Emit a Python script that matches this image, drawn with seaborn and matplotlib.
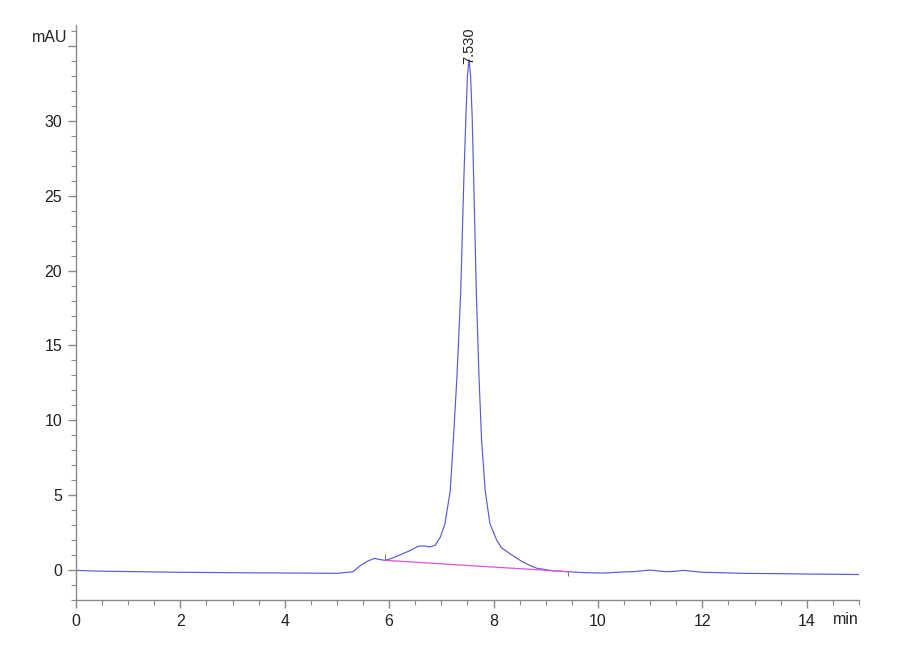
import matplotlib
matplotlib.use("Agg")
import matplotlib.pyplot as plt
import seaborn as sns
import pandas as pd
from matplotlib.ticker import MultipleLocator, FuncFormatter

# Chromatogram trace (time in min, signal in mAU)
time_min = [0.0, 0.4, 1.0, 2.0, 3.1, 4.3, 5.0, 5.3, 5.45, 5.6, 5.72, 5.82, 5.92,
            6.05, 6.2, 6.4, 6.55, 6.65, 6.78, 6.88, 6.98, 7.07, 7.17, 7.23, 7.30,
            7.37, 7.43, 7.47, 7.50, 7.53, 7.56, 7.59, 7.62, 7.67, 7.72, 7.77,
            7.84, 7.93, 8.06, 8.15, 8.31, 8.53, 8.7, 8.83, 9.14, 9.43, 9.78,
            10.1, 10.42, 10.7, 11.0, 11.3, 11.5, 11.63, 11.8, 12.0, 12.4, 12.78,
            13.5, 14.06, 14.5, 15.0]
signal_mau = [-0.02, -0.07, -0.10, -0.15, -0.18, -0.20, -0.22, -0.12, 0.30, 0.62,
              0.78, 0.70, 0.65, 0.78, 1.00, 1.30, 1.58, 1.62, 1.55, 1.65, 2.20,
              3.10, 5.30, 8.70, 13.0, 18.5, 26.0, 30.3, 33.0, 34.1, 33.0, 30.3,
              26.0, 18.5, 13.0, 8.70, 5.30, 3.10, 2.00, 1.50, 1.10, 0.60, 0.30,
              0.12, -0.05, -0.11, -0.18, -0.20, -0.14, -0.10, 0.00, -0.11,
              -0.08, -0.02, -0.08, -0.15, -0.18, -0.22, -0.24, -0.27, -0.28,
              -0.30]

# Integration baseline (start / end)
base_t = [5.92, 9.43]
base_y = [0.65, -0.11]

# Peak annotation
peak_t = 7.53
peak_y = 34.1
peak_label = "7.530"

sns.set_style("ticks")
plt.rcParams['font.family'] = ['Liberation Sans Narrow', 'Liberation Sans', 'DejaVu Sans']

fig = plt.figure(figsize=(9, 6.6), dpi=100)
ax = fig.add_axes([0.0844, 0.0909, 0.8700, 0.8712])

df = pd.DataFrame({"t": time_min, "y": signal_mau})
sns.lineplot(data=df, x="t", y="y", ax=ax, color="#5a5ad2", linewidth=0.85,
             estimator=None, sort=False)
sns.lineplot(x=base_t, y=base_y, ax=ax, color="#e050e0", linewidth=0.9,
             estimator=None, sort=False)

# small integration markers at baseline start/end
ax.vlines(base_t[0], base_y[0], base_y[0] + 0.45, color="#707070", linewidth=0.7)
ax.vlines(base_t[1], base_y[1] - 0.3, base_y[1], color="#707070", linewidth=0.7)

ax.text(peak_t, peak_y - 0.3, peak_label, rotation=90, ha="center", va="bottom",
        fontsize=10.5, color="#222222")

ax.set_xlim(0, 15)
ax.set_ylim(-2, 36.4)
ax.xaxis.set_major_locator(MultipleLocator(2))
ax.xaxis.set_minor_locator(MultipleLocator(0.5))
ax.yaxis.set_major_locator(MultipleLocator(5))
ax.yaxis.set_minor_locator(MultipleLocator(1))
ax.yaxis.set_major_formatter(FuncFormatter(lambda v, p: "" if v > 32 else f"{v:g}"))

for s in ["top", "right"]:
    ax.spines[s].set_visible(False)
for s in ["left", "bottom"]:
    ax.spines[s].set_color("#8a8a8a")
    ax.spines[s].set_linewidth(1.0)

ax.tick_params(axis="both", which="major", length=6, width=1.0, color="#8a8a8a",
               labelsize=11.5, labelcolor="#222222", pad=4)
ax.tick_params(axis="both", which="minor", length=3.5, width=0.8, color="#8a8a8a")

ax.set_xlabel("")
ax.set_ylabel("")

fig.text(67 / 900, 1 - 37 / 660, "mAU", ha="right", va="center", fontsize=11.5,
         color="#222222")
fig.text(859 / 900, 1 - 620 / 660, "min", ha="right", va="center", fontsize=11.5,
         color="#222222")

fig.savefig("out.png", dpi=100, facecolor="white")
